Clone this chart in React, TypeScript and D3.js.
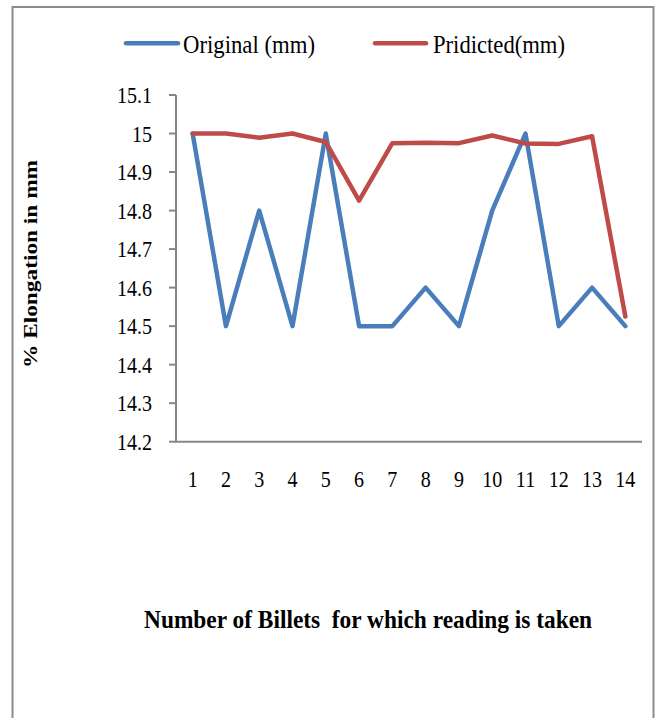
import React from "react";
import * as d3 from "d3";

const categories = ["1", "2", "3", "4", "5", "6", "7", "8", "9", "10", "11", "12", "13", "14"];
const original = [15.0, 14.5, 14.8, 14.5, 15.0, 14.5, 14.5, 14.6, 14.5, 14.8, 15.0, 14.5, 14.6, 14.5];
const predicted = [15.0, 15.0, 14.989, 15.0, 14.978, 14.826, 14.975, 14.976, 14.975, 14.995, 14.974, 14.973, 14.993, 14.525];
const yTicks = [14.2, 14.3, 14.4, 14.5, 14.6, 14.7, 14.8, 14.9, 15.0, 15.1];
const seriesNames = ["Original (mm)", "Pridicted(mm)"];
const colors = ["#4a7ebb", "#be4b48"];

const W = 657;
const H = 718;
const FONT = "'Liberation Serif', 'Times New Roman', serif";
const SX = 0.87;

export default function App() {
  const left = 176;
  const right = 642;
  const top = 95;
  const bottom = 441.7;

  const x = d3.scaleBand<string>().domain(categories).range([left, right]);
  const y = d3.scaleLinear().domain([14.2, 15.1]).range([bottom, top]);
  const cx = (c: string) => (x(c) as number) + x.bandwidth() / 2;

  const line = d3
    .line<number>()
    .x((_, i) => cx(categories[i]))
    .y((d) => y(d));

  const fmt = (v: number) => (Math.abs(v - 15) < 1e-9 ? "15" : d3.format(".1f")(v));

  const legendItems = [
    { name: seriesNames[0], color: colors[0], x1: 126, x2: 178, tx: 183 },
    { name: seriesNames[1], color: colors[1], x1: 375, x2: 426, tx: 433 },
  ];

  return (
    <svg
      width={W}
      height={H}
      style={{ position: "absolute", left: 0, top: 0, background: "#fff" }}
      fontFamily={FONT}
    >
      <rect x={0} y={0} width={W} height={H} fill="#fff" />
      <rect x={12.5} y={7} width={641} height={H + 10} fill="none" stroke="#8c8c8c" strokeWidth={2} />

      {/* legend */}
      {legendItems.map((l) => (
        <g key={l.name}>
          <line x1={l.x1} x2={l.x2} y1={43.3} y2={43.3} stroke={l.color} strokeWidth={4.5} strokeLinecap="round" />
          <text x={l.tx} y={53.3} fontSize={26} textLength={132} lengthAdjust="spacingAndGlyphs" fill="#000">
            {l.name}
          </text>
        </g>
      ))}

      {/* y axis */}
      <line x1={left} x2={left} y1={top} y2={bottom} stroke="#868686" strokeWidth={2} />
      {yTicks.map((t) => (
        <g key={t}>
          <line x1={169} x2={left} y1={y(t)} y2={y(t)} stroke="#868686" strokeWidth={2} />
          <text
            transform={`translate(152,${y(t) + 8.3}) scale(${SX},1)`}
            textAnchor="end"
            fontSize={23}
            fill="#000"
          >
            {fmt(t)}
          </text>
        </g>
      ))}

      {/* x axis */}
      <line x1={left - 1} x2={right} y1={bottom} y2={bottom} stroke="#868686" strokeWidth={2} />
      {categories.map((c) => (
        <text
          key={c}
          transform={`translate(${cx(c)},486.5) scale(${SX},1)`}
          textAnchor="middle"
          fontSize={23}
          fill="#000"
        >
          {c}
        </text>
      ))}

      {/* series */}
      <path d={line(original) as string} fill="none" stroke={colors[0]} strokeWidth={4.5} strokeLinejoin="round" strokeLinecap="round" />
      <path d={line(predicted) as string} fill="none" stroke={colors[1]} strokeWidth={4.5} strokeLinejoin="round" strokeLinecap="round" />

      {/* axis titles */}
      <text
        transform={`translate(37,264) rotate(-90)`}
        textAnchor="middle"
        fontSize={18.5}
        fontWeight="bold"
        textLength={208}
        lengthAdjust="spacingAndGlyphs"
        fill="#000"
      >
        % Elongation in mm
      </text>
      <text
        x={144}
        y={628}
        fontSize={25}
        fontWeight="bold"
        textLength={448}
        lengthAdjust="spacingAndGlyphs"
        fill="#000"
        style={{ whiteSpace: "pre" }}
      >
        {"Number of Billets  for which reading is taken"}
      </text>
    </svg>
  );
}
